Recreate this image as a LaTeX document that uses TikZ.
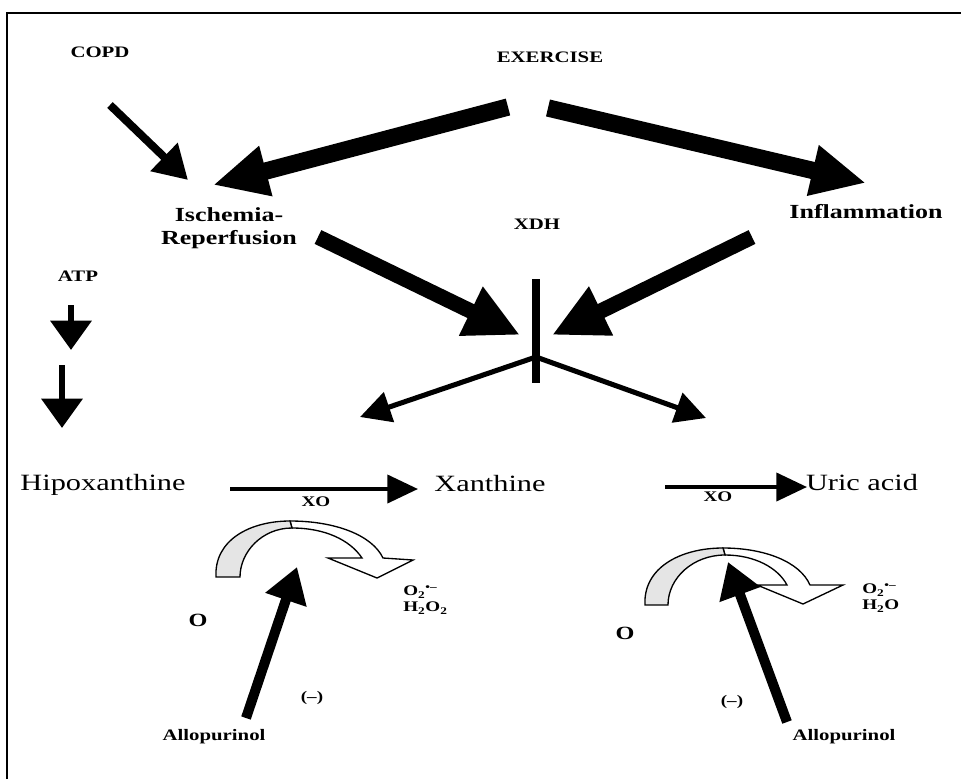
\documentclass[tikz,border=0pt]{standalone}
\usepackage{fontspec}
\setmainfont{Liberation Serif}[FakeStretch=1.3]
\usetikzlibrary{arrows.meta}
\begin{document}
\begin{tikzpicture}[x=0.75pt,y=-0.75pt,
  bl/.style={inner sep=0pt, font=\bfseries\fontsize{12}{13}\selectfont},
  big/.style={inner sep=0pt, font=\bfseries\fontsize{15}{17.5}\selectfont, align=center},
  chem/.style={inner sep=0pt, font=\fontsize{17.5}{19}\selectfont},
  sm/.style={inner sep=0pt, font=\bfseries\fontsize{11}{12}\selectfont, align=left},
  fatA/.style={line width=13pt, -{Triangle[length=41pt,width=36pt]}},
  fatB/.style={line width=11.5pt, -{Triangle[length=41pt,width=38pt]}},
  midA/.style={line width=6pt, -{Triangle[length=25pt,width=28pt]}},
  atpA/.style={line width=5pt, -{Triangle[length=22pt,width=30pt]}},
  thinA/.style={line width=3.8pt, -{Triangle[length=23pt,width=23pt]}},
  xoA/.style={line width=3pt, -{Triangle[length=23pt,width=21pt]}},
  alA/.style={line width=7.5pt, -{Triangle[length=26pt,width=31pt]}},
  bandg/.style={draw=black, line width=1pt, fill=black!10},
  bandw/.style={draw=black, line width=1pt, fill=white}]
\useasboundingbox (0,0) rectangle (961,779);
\draw[line width=1.3pt] (7,779) -- (7,13) -- (961,13);

% labels
\node[bl] (copd) at (100,52) {COPD};
\node[bl] (ex) at (550,57) {EXERCISE};
\node[big] (isch) at (229,228) {Ischemia-\\Reperfusion};
\node[big] (infl) at (866,212) {Inflammation};
\node[bl] (xdh) at (537,224) {XDH};
\node[bl] (atp) at (78,276) {ATP};
\node[chem] (hipo) at (103,485) {Hipoxanthine};
\node[chem] (xan) at (490,484) {Xanthine};
\node[chem] (uric) at (862,483) {Uric acid};
\node[sm] (xo1) at (316,502) {XO};
\node[sm] (xo2) at (718,497) {XO};
\node[inner sep=0pt, font=\bfseries\fontsize{14}{15}\selectfont] (o1) at (198,620) {O};
\node[inner sep=0pt, font=\bfseries\fontsize{14}{15}\selectfont] (o2) at (625,633) {O};
\node[sm, anchor=west] (ros1) at (403,600) {O\textsubscript{2}\textsuperscript{•–}\\H\textsubscript{2}O\textsubscript{2}};
\node[sm, anchor=west] (ros2) at (862,598) {O\textsubscript{2}\textsuperscript{•–}\\H\textsubscript{2}O};
\node[sm] (inh1) at (312,698) {(–)};
\node[sm] (inh2) at (732,702) {(–)};
\node[bl] (allo1) at (214,737) {Allopurinol};
\node[bl] (allo2) at (844,737) {Allopurinol};

% coordinates
\coordinate (c1s) at (110,105); \coordinate (c1e) at (188,180);
\coordinate (e1s) at (508,107); \coordinate (e1e) at (213,185);
\coordinate (e2s) at (548,108); \coordinate (e2e) at (866,183);
\coordinate (i1s) at (318,237); \coordinate (i1e) at (520,335);
\coordinate (f1s) at (752,237); \coordinate (f1e) at (552,335);
\coordinate (bt) at (536,279); \coordinate (bb) at (536,383);
\coordinate (br) at (536,357);
\coordinate (brl) at (360,417); \coordinate (brr) at (706,418);
\coordinate (a1s) at (71,305); \coordinate (a1e) at (71,350);
\coordinate (a2s) at (62,365); \coordinate (a2e) at (62,428);
\coordinate (x1s) at (230,489); \coordinate (x1e) at (418,489);
\coordinate (x2s) at (665,487); \coordinate (x2e) at (807,487);
\coordinate (l1s) at (246,718); \coordinate (l1e) at (297,567);
\coordinate (l2s) at (787,722); \coordinate (l2e) at (728,562);

% arrows
\draw[midA] (c1s) -- (c1e);
\draw[fatA] (e1s) -- (e1e);
\draw[fatA] (e2s) -- (e2e);
\draw[fatB] (i1s) -- (i1e);
\draw[fatB] (f1s) -- (f1e);
\draw[line width=6pt] (bt) -- (bb);
\draw[thinA] (br) -- (brl);
\draw[thinA] (br) -- (brr);
\draw[atpA] (a1s) -- (a1e);
\draw[atpA] (a2s) -- (a2e);
\draw[xoA] (x1s) -- (x1e);
\draw[xoA] (x2s) -- (x2e);

% curved arrows (left)
\draw[bandw] (290,521) .. controls (335,521) and (372,535) .. (383,558)
  -- (413,560) -- (377,578) -- (328,558) -- (362,558)
  .. controls (350,540) and (325,528) .. (292,528) -- cycle;
\draw[bandg] (216,577) .. controls (214,540) and (250,521) .. (290,521)
  -- (292,528) .. controls (262,528) and (240,552) .. (240,577) -- cycle;
% curved arrows (right)
\draw[bandw] (723,548) .. controls (765,548) and (800,562) .. (810,585)
  -- (843,585) -- (803,604) -- (757,585) -- (787,585)
  .. controls (778,568) and (755,555) .. (725,555) -- cycle;
\draw[bandg] (645,605) .. controls (643,568) and (680,548) .. (723,548)
  -- (725,555) .. controls (693,555) and (668,578) .. (668,605) -- cycle;

\draw[alA] (l1s) -- (l1e);
\draw[alA] (l2s) -- (l2e);
\end{tikzpicture}
\end{document}
